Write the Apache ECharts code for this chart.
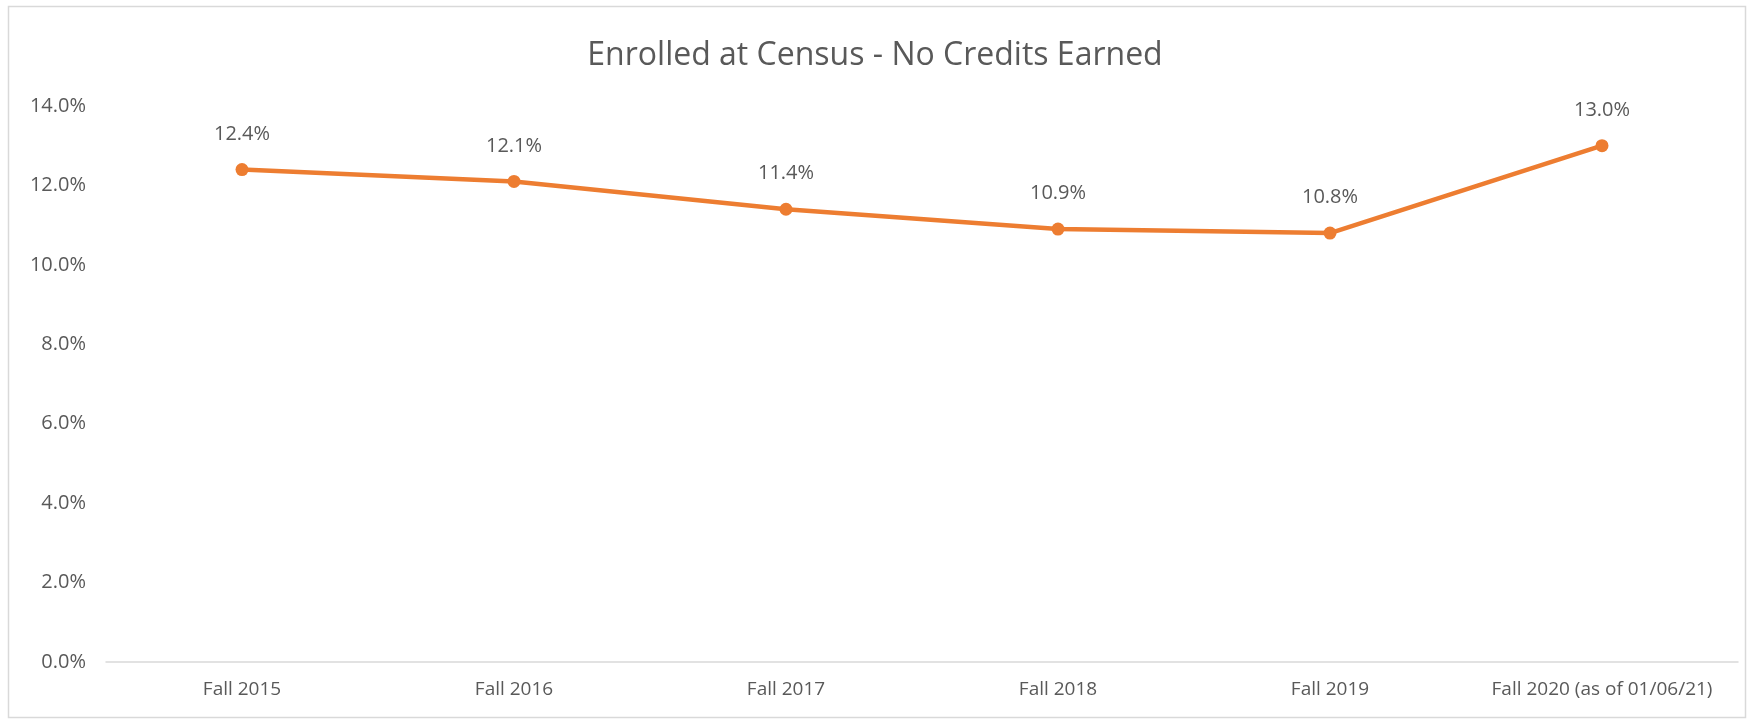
<!DOCTYPE html>
<html>
<head>
<meta charset="utf-8">
<script src="https://cdn.jsdelivr.net/npm/echarts@6/dist/echarts.min.js"></script>
<style>
  body { margin: 0; background: #fff; }
  #chart { width: 1750px; height: 720px; }
</style>
</head>
<body>
<div id="chart"></div>
<script>
var terms = ['Fall 2015', 'Fall 2016', 'Fall 2017', 'Fall 2018', 'Fall 2019', 'Fall 2020 (as of 01/06/21)'];
var noCredits = [12.4, 12.1, 11.4, 10.9, 10.8, 13.0];
var yTicks = [0, 2, 4, 6, 8, 10, 12, 14];

var myChart = echarts.init(document.getElementById('chart'));
var txt = '#595959';
var fontFam = 'Open Sans, Liberation Sans, sans-serif';

option = {
	backgroundColor: '#fff',
	title: {
		text: 'Enrolled at Census - No Credits Earned',
		left: 'center',
		top: 35,
		textStyle: {
			color: txt,
			fontSize: 32,
			fontWeight: 'normal',
			fontFamily: fontFam
		}
	},
	graphic: [{
		type: 'rect',
		shape: { x: 8.5, y: 6.5, width: 1737, height: 711 },
		style: { fill: 'none', stroke: '#d9d9d9', lineWidth: 1.5 },
		silent: true
	}],
	grid: {
		left: 106,
		right: 12,
		top: 106,
		bottom: 58
	},
	xAxis: {
		type: 'category',
		data: terms,
		boundaryGap: true,
		axisLine: { lineStyle: { color: '#d9d9d9', width: 1.5 } },
		axisTick: { show: false },
		axisLabel: {
			interval: 0,
			hideOverlap: false,
			color: txt,
			fontSize: 19,
			fontFamily: fontFam,
			margin: 18
		}
	},
	yAxis: {
		type: 'value',
		min: yTicks[0],
		max: yTicks[yTicks.length - 1],
		interval: yTicks[1] - yTicks[0],
		splitLine: { show: false },
		axisLine: { show: false },
		axisTick: { show: false },
		axisLabel: {
			color: txt,
			fontSize: 20,
			fontFamily: fontFam,
			margin: 20,
			formatter: function (v) { return v.toFixed(1) + '%'; }
		}
	},
	series: [{
		type: 'line',
		data: noCredits,
		symbol: 'circle',
		symbolSize: 13,
		lineStyle: { color: '#ED7D31', width: 4.5 },
		itemStyle: { color: '#ED7D31' },
		label: {
			show: true,
			position: 'top',
			distance: 19,
			color: txt,
			fontSize: 20,
			fontFamily: fontFam,
			formatter: function (p) { return p.value.toFixed(1) + '%'; }
		},
		animation: false
	}]
};

myChart.setOption(option);
</script>
</body>
</html>
